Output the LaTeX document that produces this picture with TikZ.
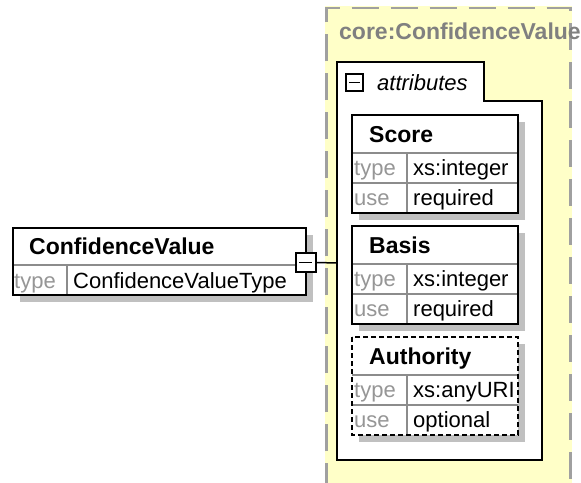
\documentclass[tikz,border=0pt]{standalone}
\usepackage{fontspec}
\setmainfont{Liberation Sans}
\definecolor{shadegray}{RGB}{192,192,192}
\definecolor{divgray}{RGB}{140,140,140}
\definecolor{lblgray}{RGB}{150,150,150}
\definecolor{grpyellow}{RGB}{255,255,200}
\definecolor{grpline}{RGB}{160,160,160}
\definecolor{grptext}{RGB}{128,128,128}
\begin{document}
\begin{tikzpicture}[x=1pt,y=-1pt,
  shade/.style={fill=shadegray},
  border/.style={draw=black,line width=2pt},
  dborder/.style={draw=black,line width=2pt,dash pattern=on 5pt off 3pt},
  div/.style={draw=divgray,line width=1.3pt},
  hdr/.style={anchor=base west,inner sep=0pt,font=\fontsize{23}{27}\selectfont\bfseries},
  lbl/.style={anchor=base west,inner sep=0pt,font=\fontsize{22}{26}\selectfont,text=lblgray},
  val/.style={anchor=base west,inner sep=0pt,font=\fontsize{22}{26}\selectfont},
  toggle/.style={draw=black,line width=2pt,fill=white,minimum width=20pt,minimum height=19pt,inner sep=0pt}
]
\useasboundingbox (0,0) rectangle (581,482);
\clip (0,0) rectangle (581,482);
% group region
\fill[grpyellow] (325,6) rectangle (572,490);
\draw[grpline,line width=2.5pt,dash pattern=on 27pt off 12pt]
  (326.5,490) -- (326.5,8) -- (570.5,8) -- (570.5,490);
\node[hdr,text=grptext] (grp) at (339,39) {core:ConfidenceValue};
% attributes box
\draw[border,fill=white] (337,62) -- (484,62) -- (484,101) -- (542,101) -- (542,460) -- (337,460) -- cycle;
\coordinate (attrin) at (337,263);
\draw[line width=1.5pt] (346,74) rectangle (363,91);
\draw[line width=1.5pt] (349,82.5) -- (360,82.5);
\node[val,font=\fontsize{22}{26}\selectfont\itshape] (attrlbl) at (377,90) {attributes};
% element boxes
\newcommand\attrbox[6]{%
  \fill[shade] (359,#2+7) rectangle (525,#2+105);
  \fill[white] (352,#2) rectangle (518,#2+98);
  \draw[div] (352,#2+38) -- (518,#2+38) (352,#2+68) -- (518,#2+68) (407,#2+38) -- (407,#2+98);
  \draw[#6] (352,#2) rectangle (518,#2+98);
  \node[hdr] (#1) at (369,#2+27) {#3};
  \node[lbl] (#1-tl) at (354,#2+60) {type};
  \node[val] (#1-t) at (413,#2+60) {#4};
  \node[lbl] (#1-ul) at (354,#2+90) {use};
  \node[val] (#1-u) at (413,#2+90) {#5};
}
\attrbox{score}{115}{Score}{xs:integer}{required}{border}
\attrbox{basis}{226}{Basis}{xs:integer}{required}{border}
\attrbox{auth}{337}{Authority}{xs:anyURI}{optional}{dborder}
% main element
\fill[shade] (20,235) rectangle (313,302);
\fill[white] (13,228) rectangle (306,295);
\draw[div] (13,265) -- (306,265) (67,265) -- (67,295);
\draw[border] (13,228) rectangle (306,295);
\node[hdr] (cv) at (29,254) {ConfidenceValue};
\node[lbl] (cv-tl) at (14,288) {type};
\node[val] (cv-t) at (73,288) {ConfidenceValueType};
\node[toggle] (cvtog) at (305.5,262.5) {};
\draw[line width=1.5pt] (299,262.5) -- (312,262.5);
\draw[line width=1.5pt] (cvtog.east) -- (attrin);
\end{tikzpicture}
\end{document}
